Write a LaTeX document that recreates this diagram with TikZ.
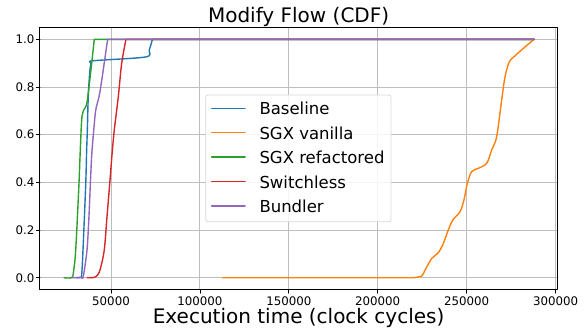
\documentclass[tikz,border=0pt]{standalone}
\usepackage{fontspec}
\setmainfont{DejaVu Sans}
\usepackage{tikz}
\definecolor{cblue}{rgb}{0.12,0.47,0.71}
\definecolor{corange}{rgb}{1,0.5,0.05}
\definecolor{cgreen}{rgb}{0.17,0.63,0.17}
\definecolor{cred}{rgb}{0.84,0.15,0.16}
\definecolor{cpurple}{rgb}{0.58,0.4,0.74}
\definecolor{bqbqbq}{rgb}{0.74,0.74,0.74}
\definecolor{dcdcdc}{rgb}{0.85,0.85,0.85}

\begin{document}
\begin{tikzpicture}[line cap=round,line join=round,x=1.778pt,y=238.4pt,
  ticklabel/.style={font=\fontsize{11.8}{14}\selectfont},
  bigtext/.style={font=\fontsize{20}{24}\selectfont,anchor=base},
  legendtext/.style={font=\fontsize{16.5}{20}\selectfont,anchor=base west,inner sep=0pt},
  cdf/.style={line width=1.4pt}]
\useasboundingbox (-12.43,-0.2324) rectangle (317.7,1.1649);
% grid
\foreach \x in {50,100,...,300}
\draw [color=bqbqbq,line width=0.9pt] (\x,-0.05) -- (\x,1.05);
\foreach \y in {0.0,0.2,0.4,0.6,0.8,1.0}
\draw [color=bqbqbq,line width=0.9pt] (10,\y) -- (301,\y);
% curves
\draw [cdf,color=cblue] plot[smooth,tension=0.5] coordinates {(30.7,0) (32.85,0.002) (33.5,0.011) (34.25,0.116) (35.8,0.396) (36.3,0.536) (36.7,0.62) (37.2,0.759) (38.0,0.857) (38.75,0.899) (40.0,0.91) (69.5,0.926) (71.5,0.955) (73.3,1)} -- (288,1);
\draw [cdf,color=corange] (112.8,0) -- (220,0) plot[smooth,tension=0.5] coordinates {(220,0) (224.7,0.007) (226.6,0.032) (230.4,0.081) (234.1,0.105) (236.9,0.144) (239.7,0.2) (242.2,0.242) (246.3,0.277) (248.5,0.326) (250.4,0.396) (252.85,0.445) (256.6,0.459) (261.3,0.48) (264.1,0.536) (266.9,0.591) (269.7,0.745) (271.6,0.843) (274,0.906) (276.65,0.927) (281.9,0.962) (287.9,1)};
\draw [cdf,color=cgreen] plot[smooth,tension=0.5] coordinates {(23.6,0) (27.9,0) (28.9,0.024) (30.15,0.116) (32,0.396) (32.5,0.494) (33.5,0.661) (34.6,0.703) (36.7,0.745) (40.6,1)} -- (288,1);
\draw [cdf,color=cred] plot[smooth,tension=0.5] coordinates {(36.7,0) (40.4,0.001) (41.95,0.007) (43.8,0.032) (46.2,0.116) (47.75,0.256) (49.3,0.396) (50.55,0.515) (51.85,0.62) (54.1,0.759) (56,0.899) (58.4,1)} -- (288,1);
\draw [cdf,color=cpurple] plot[smooth,tension=0.5] coordinates {(28.2,0) (33.1,0.001) (34.4,0.006) (36.5,0.116) (37.6,0.256) (38.4,0.396) (39.15,0.514) (40.3,0.62) (41.4,0.703) (43.25,0.759) (44.8,0.829) (48.1,1)} -- (288,1);
% axes
\draw [line width=1pt] (10,-0.05) rectangle (301,1.05);
\foreach \x in {50,100,...,300}
\draw [shift={(\x,-0.05)},line width=0.8pt] (0pt,0pt) -- (0pt,-3.5pt) node[below,inner sep=3pt,ticklabel] (xt\x) {\x000};
\foreach \y in {0.0,0.2,0.4,0.6,0.8,1.0}
\draw [shift={(10,\y)},line width=0.8pt] (0pt,0pt) -- (-3.5pt,0pt) node[left,inner sep=1.5pt,ticklabel] (yt\y) {\y};
\node [bigtext] (title) at (155.5,1.071) {Modify Flow (CDF)};
\node [bigtext] (xlabel) at (155.5,-0.194) {Execution time (clock cycles)};
% legend
\fill [color=white,opacity=0.85,rounded corners=2pt] (103.3,0.235) rectangle (207.5,0.766);
\draw [color=dcdcdc,line width=0.8pt,rounded corners=2pt] (103.3,0.235) rectangle (207.5,0.766);
\draw [cdf,color=cblue] (106.6,0.7106) -- (125.4,0.7106);
\node [legendtext] (legbase) at (133.4,0.6826) {Baseline};
\draw [cdf,color=corange] (106.6,0.6082) -- (125.4,0.6082);
\node [legendtext] (legvan) at (133.4,0.5802) {SGX vanilla};
\draw [cdf,color=cgreen] (106.6,0.5058) -- (125.4,0.5058);
\node [legendtext] (legref) at (133.4,0.4778) {SGX refactored};
\draw [cdf,color=cred] (106.6,0.4034) -- (125.4,0.4034);
\node [legendtext] (legswl) at (133.4,0.3754) {Switchless};
\draw [cdf,color=cpurple] (106.6,0.3010) -- (125.4,0.3010);
\node [legendtext] (legbun) at (133.4,0.2730) {Bundler};
\end{tikzpicture}
\end{document}
